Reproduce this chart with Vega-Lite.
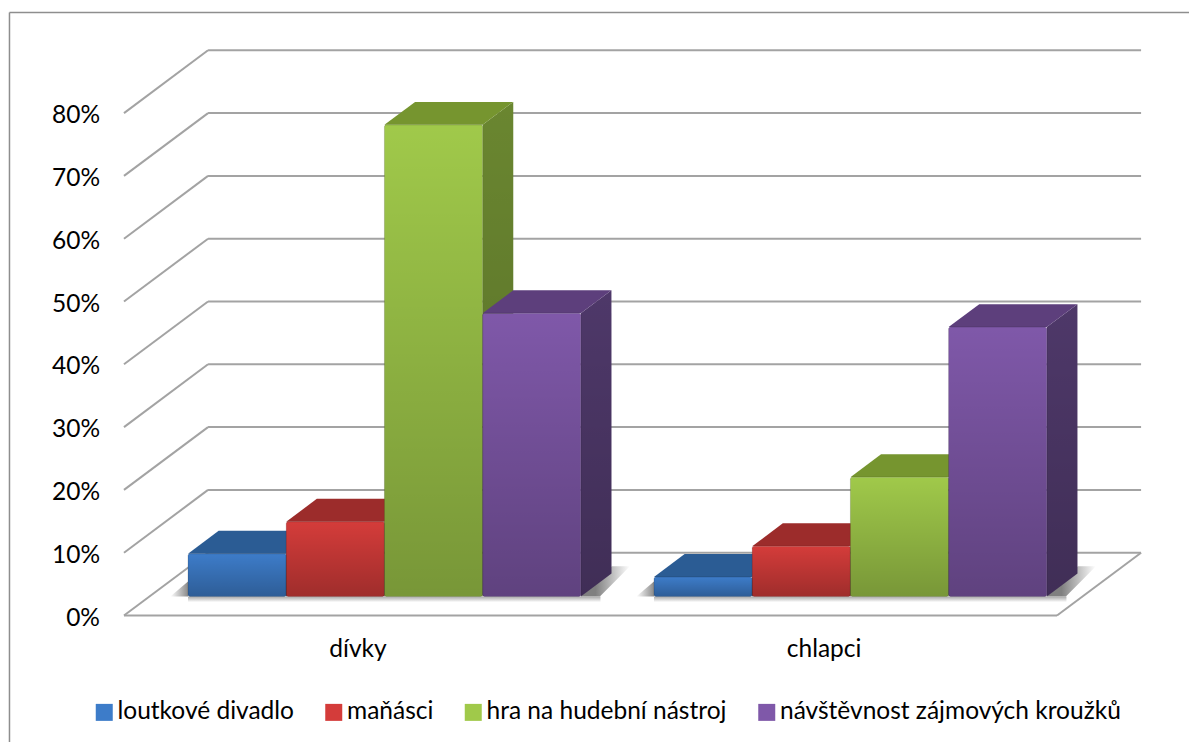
{
"$schema":"https://vega.github.io/schema/vega-lite/v6.json",
"width":1189,"height":742,"padding":0,"autosize":"none","background":"white",
"config":{"view":{"stroke":null},"font":"Lato"},
"params":[
{"name":"base","value":0.0303},{"name":"dx","value":0.312},{"name":"dy","value":0.0365},{"name":"off","value":4.745},
{"name":"order","value":["loutkové divadlo","maňásci","hra na hudební nástroj","návštěvnost zájmových kroužků"]}
],
"datasets":{
"bars":[
{"group":"dívky","series":"loutkové divadlo","value":0.068},
{"group":"dívky","series":"maňásci","value":0.119},
{"group":"dívky","series":"hra na hudební nástroj","value":0.751},
{"group":"dívky","series":"návštěvnost zájmových kroužků","value":0.451},
{"group":"chlapci","series":"loutkové divadlo","value":0.031},
{"group":"chlapci","series":"maňásci","value":0.08},
{"group":"chlapci","series":"hra na hudební nástroj","value":0.19},
{"group":"chlapci","series":"návštěvnost zájmových kroužků","value":0.429}
],
"ticks":[{"v":0},{"v":0.1},{"v":0.2},{"v":0.3},{"v":0.4},{"v":0.5},{"v":0.6},{"v":0.7},{"v":0.8}]
},
"layer":[
{"data":{"values":[{"k":"frame"}]},"mark":{"type":"rule","color":"#8e8e8e","strokeWidth":1.5},
 "encoding":{"x":{"datum":-1.818,"type":"quantitative","scale":{"domain":[-1.9145,10.193],"nice":false,"zero":false},"axis":null},
 "y":{"datum":0.96,"type":"quantitative","scale":{"domain":[-0.2014,0.9801],"nice":false,"zero":false},"axis":null},
 "y2":{"datum":-0.2014}}},
{"data":{"values":[{"k":"frame"}]},"mark":{"type":"rule","color":"#8e8e8e","strokeWidth":1.5},
 "encoding":{"x":{"datum":-1.818,"type":"quantitative","axis":null},"x2":{"datum":10.193},"y":{"datum":0.96,"type":"quantitative","axis":null}}},
{"data":{"name":"ticks"},"mark":{"type":"text","fontSize":24.5,"font":"Lato","color":"#000000","align":"right","baseline":"middle","dy":3},
 "encoding":{"x":{"datum":-0.896,"type":"quantitative","axis":null},"y":{"field":"v","type":"quantitative","axis":null},"text":{"field":"v","type":"quantitative","format":".0%"}}},
{"data":{"name":"ticks"},"transform":[{"calculate":"datum.v+0.1","as":"back"}],"mark":{"type":"rule","color":"#a3a3a3","strokeWidth":2},
 "encoding":{"x":{"datum":0.204,"type":"quantitative","axis":null},"x2":{"datum":9.705},"y":{"field":"back","type":"quantitative","axis":null}}},
{"data":{"name":"ticks"},"transform":[{"calculate":"datum.v+0.1","as":"back"}],"mark":{"type":"rule","color":"#a3a3a3","strokeWidth":2},
 "encoding":{"x":{"datum":-0.652,"type":"quantitative","axis":null},"x2":{"datum":0.204},"y":{"field":"v","type":"quantitative","axis":null},"y2":{"field":"back"}}},
{"data":{"name":"ticks"},"transform":[{"filter":"datum.v==0"}],"mark":{"type":"rule","color":"#a3a3a3","strokeWidth":2},
 "encoding":{"x":{"datum":-0.652,"type":"quantitative","axis":null},"x2":{"datum":8.849},"y":{"field":"v","type":"quantitative","axis":null}}},
{"data":{"name":"ticks"},"transform":[{"filter":"datum.v==0"},{"calculate":"datum.v+0.1","as":"back"}],"mark":{"type":"rule","color":"#a3a3a3","strokeWidth":2},
 "encoding":{"x":{"datum":8.849,"type":"quantitative","axis":null},"x2":{"datum":9.705},"y":{"field":"v","type":"quantitative","axis":null},"y2":{"field":"back"}}},
{"data":{"name":"bars"},
 "transform":[{"filter":"datum.series==order[3]"},{"calculate":"datum.group=='chlapci'?off:0","as":"s"},
 {"calculate":"[datum.s+4,datum.s+4.194,datum.s+4.316,datum.s+4.5]","as":"xs"},
 {"calculate":"[base,base,base+0.019,base+0.048]","as":"y1"},{"calculate":"[base,base+0.029,base+0.048,base+0.048]","as":"y0"},
 {"flatten":["xs","y1","y0"]}],
 "mark":{"type":"area","orient":"vertical","color":{"gradient":"linear","x1":0.3,"y1":0,"x2":1,"y2":0,"stops":[{"offset":0,"color":"#808080"},{"offset":1,"color":"#ffffff"}]}},
 "encoding":{"x":{"field":"xs","type":"quantitative","axis":null},"y":{"field":"y1","type":"quantitative","axis":null,"stack":null},"y2":{"field":"y0"},"detail":{"field":"group"}}},
{"data":{"name":"bars"},
 "transform":[{"filter":"datum.series==order[0]"},{"calculate":"datum.group=='chlapci'?off:0","as":"s"},
 {"calculate":"[datum.s-0.18,datum.s]","as":"xs"},{"calculate":"[base,base]","as":"y1"},{"calculate":"[base,base+0.024]","as":"y0"},
 {"flatten":["xs","y1","y0"]}],
 "mark":{"type":"area","orient":"vertical","color":{"gradient":"linear","x1":0,"y1":0,"x2":1,"y2":0,"stops":[{"offset":0,"color":"#ffffff"},{"offset":1,"color":"#8a8a8a"}]}},
 "encoding":{"x":{"field":"xs","type":"quantitative","axis":null},"y":{"field":"y1","type":"quantitative","axis":null,"stack":null},"y2":{"field":"y0"},"detail":{"field":"group"}}},
{"data":{"name":"bars"},
 "transform":[{"filter":"datum.series==order[0]"},{"calculate":"datum.group=='chlapci'?off:0","as":"s"},{"calculate":"datum.s+4.2","as":"e"},{"calculate":"base","as":"t"},{"calculate":"base-0.009","as":"b"}],
 "mark":{"type":"rect","color":{"gradient":"linear","x1":0,"y1":0,"x2":0,"y2":1,"stops":[{"offset":0,"color":"#a8a8a8"},{"offset":1,"color":"#ffffff"}]}},
 "encoding":{"x":{"field":"s","type":"quantitative","axis":null},"x2":{"field":"e"},"y":{"field":"t","type":"quantitative","axis":null},"y2":{"field":"b"}}},
{"data":{"name":"bars"},
 "transform":[{"calculate":"indexof(order,datum.series)+(datum.group=='chlapci'?off:0)","as":"s"},
 {"calculate":"[datum.s+1,datum.s+1+dx]","as":"xs"},{"calculate":"[datum.value+base,datum.value+base+dy]","as":"y1"},{"calculate":"[base,base+dy]","as":"y0"},
 {"flatten":["xs","y1","y0"]}],
 "mark":{"type":"area","orient":"vertical"},
 "encoding":{"x":{"field":"xs","type":"quantitative","axis":null},"y":{"field":"y1","type":"quantitative","axis":null,"stack":null},"y2":{"field":"y0"},"detail":{"field":"group"},
 "color":{"field":"series","type":"nominal","legend":null,"scale":{"domain":["loutkové divadlo","maňásci","hra na hudební nástroj","návštěvnost zájmových kroužků"],"range":["#254f80","#8a2726","#6a8630","#4e3869"]}}}},
{"data":{"name":"bars"},
 "transform":[{"calculate":"indexof(order,datum.series)+(datum.group=='chlapci'?off:0)","as":"s"},{"calculate":"datum.group+datum.series","as":"key"},
 {"calculate":"[datum.s+1,datum.s+1+dx]","as":"xs"},{"calculate":"[datum.value+base,datum.value+base+dy]","as":"y1"},{"calculate":"[base,base+dy]","as":"y0"},
 {"flatten":["xs","y1","y0"]}],
 "mark":{"type":"area","orient":"vertical","color":{"gradient":"linear","x1":0,"y1":0,"x2":0,"y2":1,"stops":[{"offset":0,"color":"rgba(0,0,0,0)"},{"offset":1,"color":"rgba(0,0,0,0.18)"}]}},
 "encoding":{"x":{"field":"xs","type":"quantitative","axis":null},"y":{"field":"y1","type":"quantitative","axis":null,"stack":null},"y2":{"field":"y0"},"detail":{"field":"key"}}},
{"data":{"name":"bars"},
 "transform":[{"calculate":"indexof(order,datum.series)+(datum.group=='chlapci'?off:0)","as":"s"},{"calculate":"datum.value+base","as":"t"},
 {"calculate":"[datum.s,datum.s+dx,datum.s+1,datum.s+1+dx]","as":"xs"},{"calculate":"[datum.t,datum.t+dy,datum.t+dy,datum.t+dy]","as":"y1"},{"calculate":"[datum.t,datum.t,datum.t,datum.t+dy]","as":"y0"},
 {"flatten":["xs","y1","y0"]}],
 "mark":{"type":"area","orient":"vertical"},
 "encoding":{"x":{"field":"xs","type":"quantitative","axis":null},"y":{"field":"y1","type":"quantitative","axis":null,"stack":null},"y2":{"field":"y0"},"detail":{"field":"group"},
 "color":{"field":"series","type":"nominal","legend":null,"scale":{"domain":["loutkové divadlo","maňásci","hra na hudební nástroj","návštěvnost zájmových kroužků"],"range":["#2b5c94","#9c2c2b","#76952f","#5d3f7c"]}}}},
{"data":{"name":"bars"},
 "transform":[{"calculate":"indexof(order,datum.series)+(datum.group=='chlapci'?off:0)","as":"s"},{"calculate":"datum.s+1","as":"e"},{"calculate":"datum.value+base","as":"t"},{"calculate":"base","as":"b"}],
 "mark":{"type":"rect","cornerRadius":2},
 "encoding":{"x":{"field":"s","type":"quantitative","axis":null},"x2":{"field":"e"},"y":{"field":"t","type":"quantitative","axis":null},"y2":{"field":"b"},
 "color":{"field":"series","type":"nominal","scale":{"domain":["loutkové divadlo","maňásci","hra na hudební nástroj","návštěvnost zájmových kroužků"],"range":["#3d7cc9","#d43c3a","#a0c94a","#7f58a9"]},
 "legend":{"orient":"none","legendX":92,"legendY":700,"direction":"horizontal","columns":4,"title":null,"symbolType":"square","symbolSize":289,"symbolStrokeWidth":0,"symbolOpacity":1,"labelFontSize":24.5,"labelColor":"#000000","labelFont":"Lato","labelLimit":400,"columnPadding":27.5,"labelOffset":1}}}},
{"data":{"name":"bars"},
 "transform":[{"calculate":"indexof(order,datum.series)+(datum.group=='chlapci'?off:0)","as":"s"},{"calculate":"datum.s+1","as":"e"},{"calculate":"datum.value+base","as":"t"},{"calculate":"base","as":"b"}],
 "mark":{"type":"rect","cornerRadius":2,"stroke":"#000000","strokeOpacity":0.15,"strokeWidth":1,"color":{"gradient":"linear","x1":0,"y1":0,"x2":0,"y2":1,"stops":[{"offset":0,"color":"rgba(0,0,0,0)"},{"offset":1,"color":"rgba(0,0,0,0.25)"}]}},
 "encoding":{"x":{"field":"s","type":"quantitative","axis":null},"x2":{"field":"e"},"y":{"field":"t","type":"quantitative","axis":null},"y2":{"field":"b"}}},
{"data":{"name":"bars"},
 "transform":[{"filter":"datum.series==order[0]"},{"calculate":"datum.group=='chlapci'?6.477:1.731","as":"cx"},{"calculate":"-0.055","as":"cy"}],
 "mark":{"type":"text","fontSize":24.5,"font":"Lato","color":"#000000","align":"center","baseline":"middle"},
 "encoding":{"x":{"field":"cx","type":"quantitative","axis":null},"y":{"field":"cy","type":"quantitative","axis":null},"text":{"field":"group"}}}
],
"resolve":{"scale":{"color":"independent"}}
}
